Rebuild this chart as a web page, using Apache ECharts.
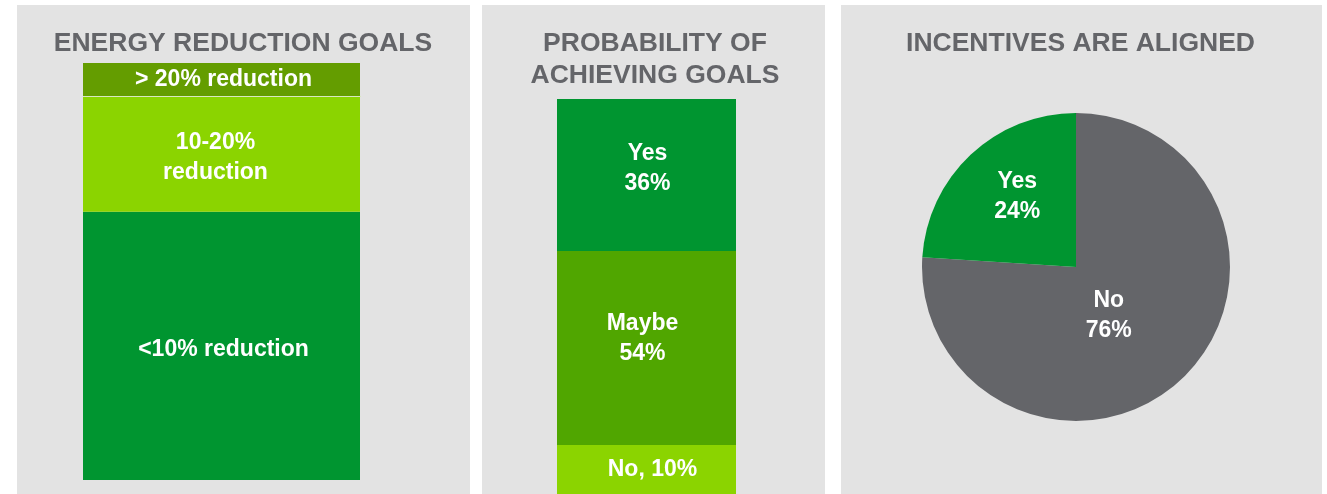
<!DOCTYPE html>
<html>
<head>
<meta charset="utf-8">
<script src="https://cdn.jsdelivr.net/npm/echarts@6/dist/echarts.min.js"></script>
<style>
html,body{margin:0;padding:0;background:#ffffff;}
#main{width:1327px;height:494px;}
</style>
</head>
<body>
<div id="main"></div>
<script>
// ---- Data ----
const panelTitles = ['ENERGY REDUCTION GOALS', 'PROBABILITY OF\nACHIEVING GOALS', 'INCENTIVES ARE ALIGNED'];

// Panel 1: stacked segments, bottom to top (share of bar height, %)
const goalCategories = ['<10% reduction', '10-20%\nreduction', '> 20% reduction'];
const goalHeights = [64.3, 27.6, 8.1];

// Panel 2: stacked segments, bottom to top
const probCategories = ['No', 'Maybe', 'Yes'];
const probShares = [10, 54, 36];          // reported percentages (labels)
const probHeights = [12.4, 49.1, 38.5];   // drawn segment heights (% of visible bar)

// Panel 3: pie
const incentiveCategories = ['No', 'Yes'];
const incentiveValues = [76, 24];

// ---- Styles ----
const goalColors = ['#009530', '#8BD400', '#649D00'];
const probColors = ['#8BD400', '#50A600', '#009530'];
const pieColors = ['#646569', '#009530'];
const titleColor = '#646569';
const panelBg = '#E3E3E3';
const fontFamily = '"Liberation Sans", Arial, sans-serif';

const labelStyle = {
  color: '#ffffff', fontSize: 23, fontWeight: 'bold', fontFamily: fontFamily, lineHeight: 30
};
const titleStyle = {color: titleColor, fontSize: 26.5, fontWeight: 'bold', fontFamily: fontFamily, lineHeight: 32};

const chart = echarts.init(document.getElementById('main'), null, {renderer: 'canvas'});

const goalLabelOffsets = [[2, 4], [-6, 3], [2, 0]];
const probLabelOffsets = [[6, 0], [-4, -9], [1, -6]];
const pieLabelShift = [[-22, -10], [-4, -12]];

const goalSeries = goalCategories.map((name, i) => ({
  type: 'bar', name: name, stack: 'goals', xAxisIndex: 0, yAxisIndex: 0,
  barWidth: '100%', data: [goalHeights[i]],
  itemStyle: {color: goalColors[i]},
  label: Object.assign({show: true, position: 'inside', offset: goalLabelOffsets[i], formatter: () => name}, labelStyle),
  silent: true
}));

const probSeries = probCategories.map((name, i) => ({
  type: 'bar', name: name, stack: 'prob', xAxisIndex: 1, yAxisIndex: 1,
  barWidth: '100%', data: [probHeights[i]],
  itemStyle: {color: probColors[i]},
  label: Object.assign({
    show: true, position: 'inside', offset: probLabelOffsets[i],
    formatter: () => (name === 'No' ? name + ', ' + probShares[i] + '%' : name + '\n' + probShares[i] + '%')
  }, labelStyle),
  silent: true
}));

const option = {
  backgroundColor: '#ffffff',
  animation: false,
  graphic: [
    {type: 'rect', z: -10, shape: {x: 17, y: 5, width: 453, height: 489}, style: {fill: panelBg}, silent: true},
    {type: 'rect', z: -10, shape: {x: 482, y: 5, width: 343, height: 489}, style: {fill: panelBg}, silent: true},
    {type: 'rect', z: -10, shape: {x: 841, y: 5, width: 481, height: 489}, style: {fill: panelBg}, silent: true},
    {type: 'rect', z: 10, shape: {x: 83, y: 96, width: 278, height: 1}, style: {fill: '#D8E8C0'}, silent: true}
  ],
  title: [
    {text: panelTitles[0], left: 243, top: 27.5, padding: 0, textAlign: 'center', textStyle: titleStyle},
    {text: panelTitles[1], left: 655, top: 27.5, padding: 0, textAlign: 'center', textStyle: titleStyle},
    {text: panelTitles[2], left: 1080.5, top: 27.5, padding: 0, textAlign: 'center', textStyle: titleStyle}
  ],
  grid: [
    {left: 83, top: 63, width: 277, height: 417, containLabel: false},
    {left: 557, top: 99, width: 179, height: 395, containLabel: false}
  ],
  xAxis: [
    {type: 'category', gridIndex: 0, data: ['goals'], show: false},
    {type: 'category', gridIndex: 1, data: ['prob'], show: false}
  ],
  yAxis: [
    {type: 'value', gridIndex: 0, min: 0, max: 100, show: false},
    {type: 'value', gridIndex: 1, min: 0, max: 100, show: false}
  ],
  series: goalSeries.concat(probSeries).concat([{
    type: 'pie',
    center: [1076, 267],
    radius: 154,
    startAngle: 90,
    clockwise: true,
    silent: true,
    data: incentiveCategories.map((n, i) => ({name: n, value: incentiveValues[i], itemStyle: {color: pieColors[i]}})),
    label: Object.assign({show: true, position: 'inside', formatter: p => p.name + '\n' + p.value + '%'}, labelStyle),
    labelLine: {show: false},
    labelLayout: function (params) {
      const s = pieLabelShift[params.dataIndex];
      return {dx: s[0], dy: s[1]};
    },
    itemStyle: {borderWidth: 0}
  }])
};

chart.setOption(option);
</script>
</body>
</html>
